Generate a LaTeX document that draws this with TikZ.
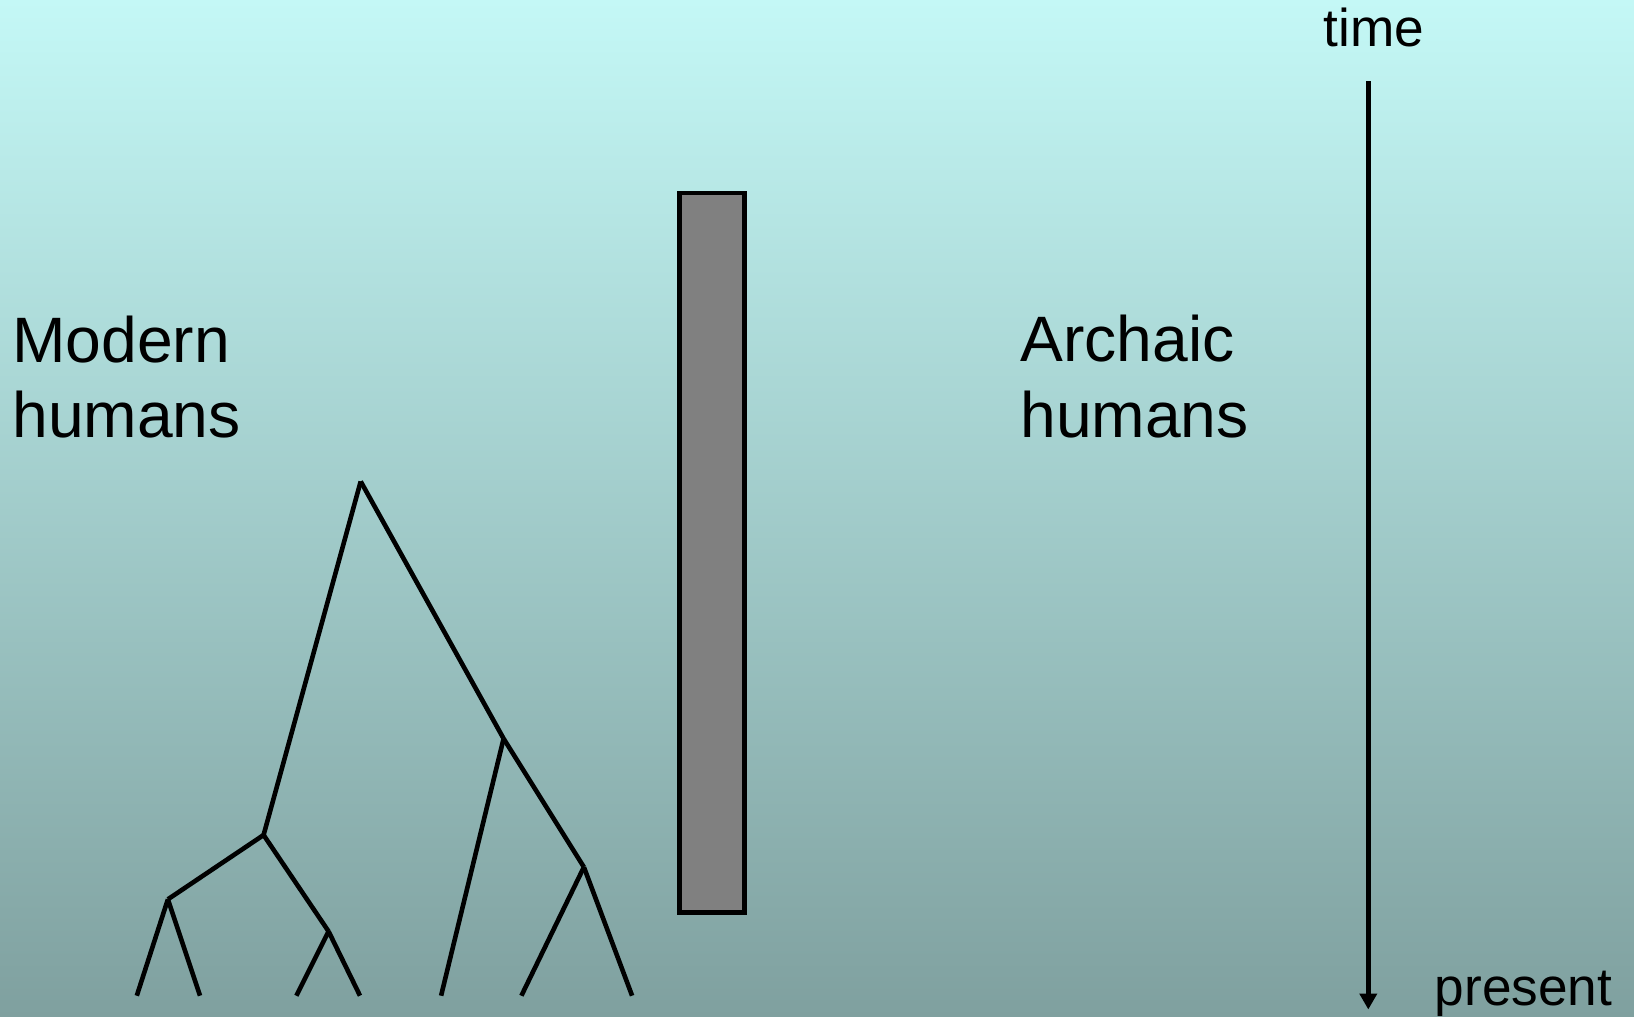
\documentclass[tikz,border=0pt]{standalone}
\usepackage{fontspec}
\setmainfont{Liberation Sans}
\usetikzlibrary{arrows.meta}
\definecolor{bgtop}{RGB}{196,248,246}
\definecolor{bgbot}{RGB}{127,160,159}
\definecolor{boxgray}{RGB}{128,128,128}
\tikzset{
  branch/.style={line width=2.3pt, black},
  biglabel/.style={inner sep=0pt, anchor=base west, font=\fontsize{32.1pt}{37.5pt}\selectfont},
  smalllabel/.style={inner sep=0pt, anchor=base west, font=\fontsize{26.6pt}{31pt}\selectfont},
  barrier/.style={draw=black, fill=boxgray, line width=2.4pt},
  timearrow/.style={line width=2.2pt, -{Triangle[width=8.5pt,length=8pt]}}
}
\begin{document}
\begin{tikzpicture}[x=0.5pt,y=-0.5pt]
\useasboundingbox (0,0) rectangle (1634,1017);
\shade[top color=bgtop, bottom color=bgbot] (0,0) rectangle (1634,1017);

% labels
\node[biglabel] (modern1) at (12,362.6) {Modern};
\node[biglabel] (modern2) at (12,437.7) {humans};
\node[biglabel] (archaic1) at (1020,361.5) {Archaic};
\node[biglabel] (archaic2) at (1020,437) {humans};
\node[smalllabel] (time) at (1323.5,46.7) {time};
\node[smalllabel] (present) at (1434.5,1005.3) {present};

% barrier
\draw[barrier] (679.8,193) rectangle (744.8,912.3);

% time arrow
\coordinate (tstart) at (1368.3,81);
\coordinate (tend) at (1368.3,1009.5);
\draw[timearrow] (tstart) -- (tend);

% tree
\coordinate (root) at (360.7,481.4);
\coordinate (A) at (263.6,835);
\coordinate (B) at (167.9,899.3);
\coordinate (C) at (328.6,931.4);
\coordinate (D) at (503.6,738.6);
\coordinate (E) at (583.9,867.1);
\coordinate (l1) at (136.8,995.7);
\coordinate (l2) at (200,995.7);
\coordinate (l3) at (296.4,995.7);
\coordinate (l4) at (360,995.7);
\coordinate (l5) at (441.1,995.7);
\coordinate (l6) at (521.4,995.7);
\coordinate (l7) at (632.1,995.7);

\draw[branch] (root) -- (A);
\draw[branch] (root) -- (D);
\draw[branch] (A) -- (B);
\draw[branch] (A) -- (C);
\draw[branch] (B) -- (l1);
\draw[branch] (B) -- (l2);
\draw[branch] (C) -- (l3);
\draw[branch] (C) -- (l4);
\draw[branch] (D) -- (l5);
\draw[branch] (D) -- (E);
\draw[branch] (E) -- (l6);
\draw[branch] (E) -- (l7);
\end{tikzpicture}
\end{document}
